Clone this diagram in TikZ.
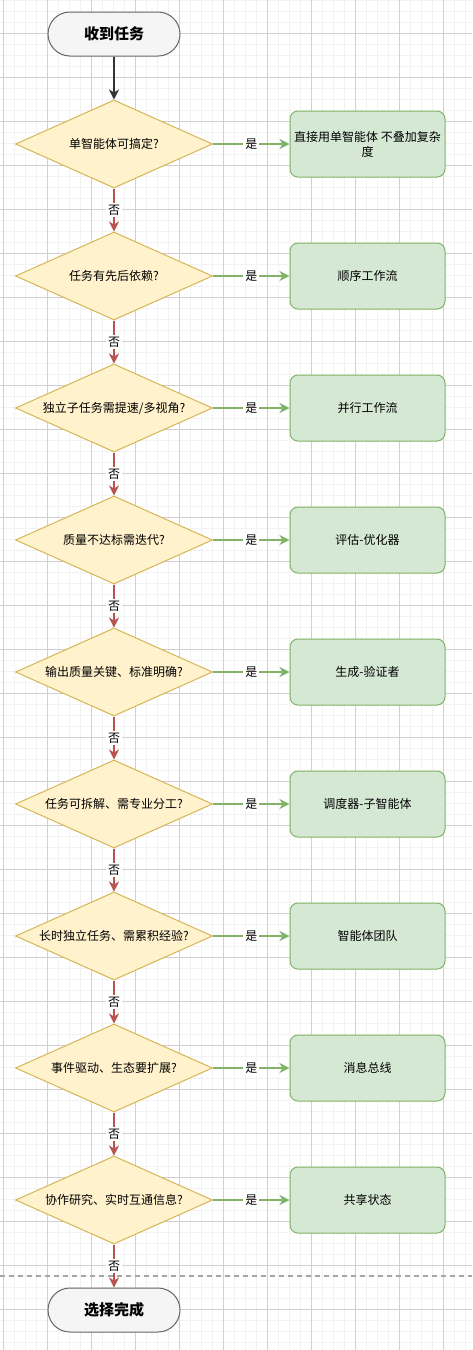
\documentclass[tikz,border=0pt]{standalone}
\usepackage{fontspec}
\setmainfont{Noto Sans CJK SC}
\usetikzlibrary{shapes.geometric,arrows.meta}
\definecolor{gridmin}{HTML}{F2F2F2}
\definecolor{gridmaj}{HTML}{D0D0D0}
\definecolor{termfill}{HTML}{F5F5F5}
\definecolor{termline}{HTML}{666666}
\definecolor{diafill}{HTML}{FFF2CC}
\definecolor{dialine}{HTML}{D6B656}
\definecolor{boxfill}{HTML}{D5E8D4}
\definecolor{boxline}{HTML}{82B366}
\definecolor{noline}{HTML}{B85450}
\definecolor{darkline}{HTML}{333333}
\tikzset{
  term/.style={draw=termline, fill=termfill, line width=1pt, rounded corners=22pt,
    minimum width=132pt, minimum height=44pt, inner sep=0pt,
    font=\fontsize{15}{18}\selectfont\bfseries},
  dia/.style={diamond, draw=dialine, fill=diafill, line width=1pt, aspect=2.24,
    minimum width=197pt, minimum height=88pt, inner sep=0pt,
    font=\fontsize{12}{14}\selectfont},
  resbox/.style={draw=boxline, fill=boxfill, line width=1pt, rounded corners=8pt,
    minimum width=155pt, minimum height=66pt, inner sep=0pt, align=center,
    font=\fontsize{12}{15}\selectfont},
  tipa/.style={-{Stealth[length=10pt,width=10pt,inset=3pt]}},
  yesarrow/.style={tipa, draw=boxline, fill=boxline, line width=2pt},
  noarrow/.style={tipa, draw=noline, fill=noline, line width=2pt},
  startarrow/.style={tipa, draw=darkline, fill=darkline, line width=2pt},
  lbl/.style={fill=white, inner sep=2pt, text=black, font=\fontsize{12}{14}\selectfont},
}
\begin{document}
\begin{tikzpicture}[x=1pt,y=-1pt]
\useasboundingbox (0,0) rectangle (472,1350);
\fill[white] (0,0) rectangle (472,1350);
% grid
\foreach \i in {0,...,42} \draw[gridmin,line width=1pt] ({3.7+11*\i},0) -- ({3.7+11*\i},1350);
\foreach \j in {0,...,122} \draw[gridmin,line width=1pt] (0,{11*\j}) -- (472,{11*\j});
\foreach \i in {0,...,10} \draw[gridmaj,line width=1pt] ({3.7+44*\i},0) -- ({3.7+44*\i},1350);
\foreach \j in {0,...,30} \draw[gridmaj,line width=1pt] (0,{-11+44*\j}) -- (472,{-11+44*\j});
% dashed separator
\draw[color=gray!70, line width=1.3pt, dash pattern=on 5pt off 4pt] (0,1276) -- (472,1276);

\node[term] (start) at (114,34) {收到任务};
\node[term] (finish) at (114,1310) {选择完成};

\node[dia] (d1) at (114,144) {单智能体可搞定?};
\node[dia] (d2) at (114,276) {任务有先后依赖?};
\node[dia] (d3) at (114,408) {独立子任务需提速/多视角?};
\node[dia] (d4) at (114,540) {质量不达标需迭代?};
\node[dia] (d5) at (114,672) {输出质量关键、标准明确?};
\node[dia] (d6) at (114,804) {任务可拆解、需专业分工?};
\node[dia] (d7) at (114,936) {长时独立任务、需累积经验?};
\node[dia] (d8) at (114,1068) {事件驱动、生态要扩展?};
\node[dia] (d9) at (114,1200) {协作研究、实时互通信息?};

\node[resbox] (b1) at (367.5,144) {直接用单智能体 不叠加复杂\\度};
\node[resbox] (b2) at (367.5,276) {顺序工作流};
\node[resbox] (b3) at (367.5,408) {并行工作流};
\node[resbox] (b4) at (367.5,540) {评估-优化器};
\node[resbox] (b5) at (367.5,672) {生成-验证者};
\node[resbox] (b6) at (367.5,804) {调度器-子智能体};
\node[resbox] (b7) at (367.5,936) {智能体团队};
\node[resbox] (b8) at (367.5,1068) {消息总线};
\node[resbox] (b9) at (367.5,1200) {共享状态};

\draw[startarrow] (start.south) -- (d1.north);

\foreach \k in {1,...,9} \draw[yesarrow] (d\k.east) -- node[lbl] {是} (b\k.west);

\foreach \k/\n in {1/2,2/3,3/4,4/5,5/6,6/7,7/8,8/9} \draw[noarrow] (d\k.south) -- node[lbl] {否} (d\n.north);
\draw[noarrow] (d9.south) -- node[lbl] {否} (finish.north);
\end{tikzpicture}
\end{document}
